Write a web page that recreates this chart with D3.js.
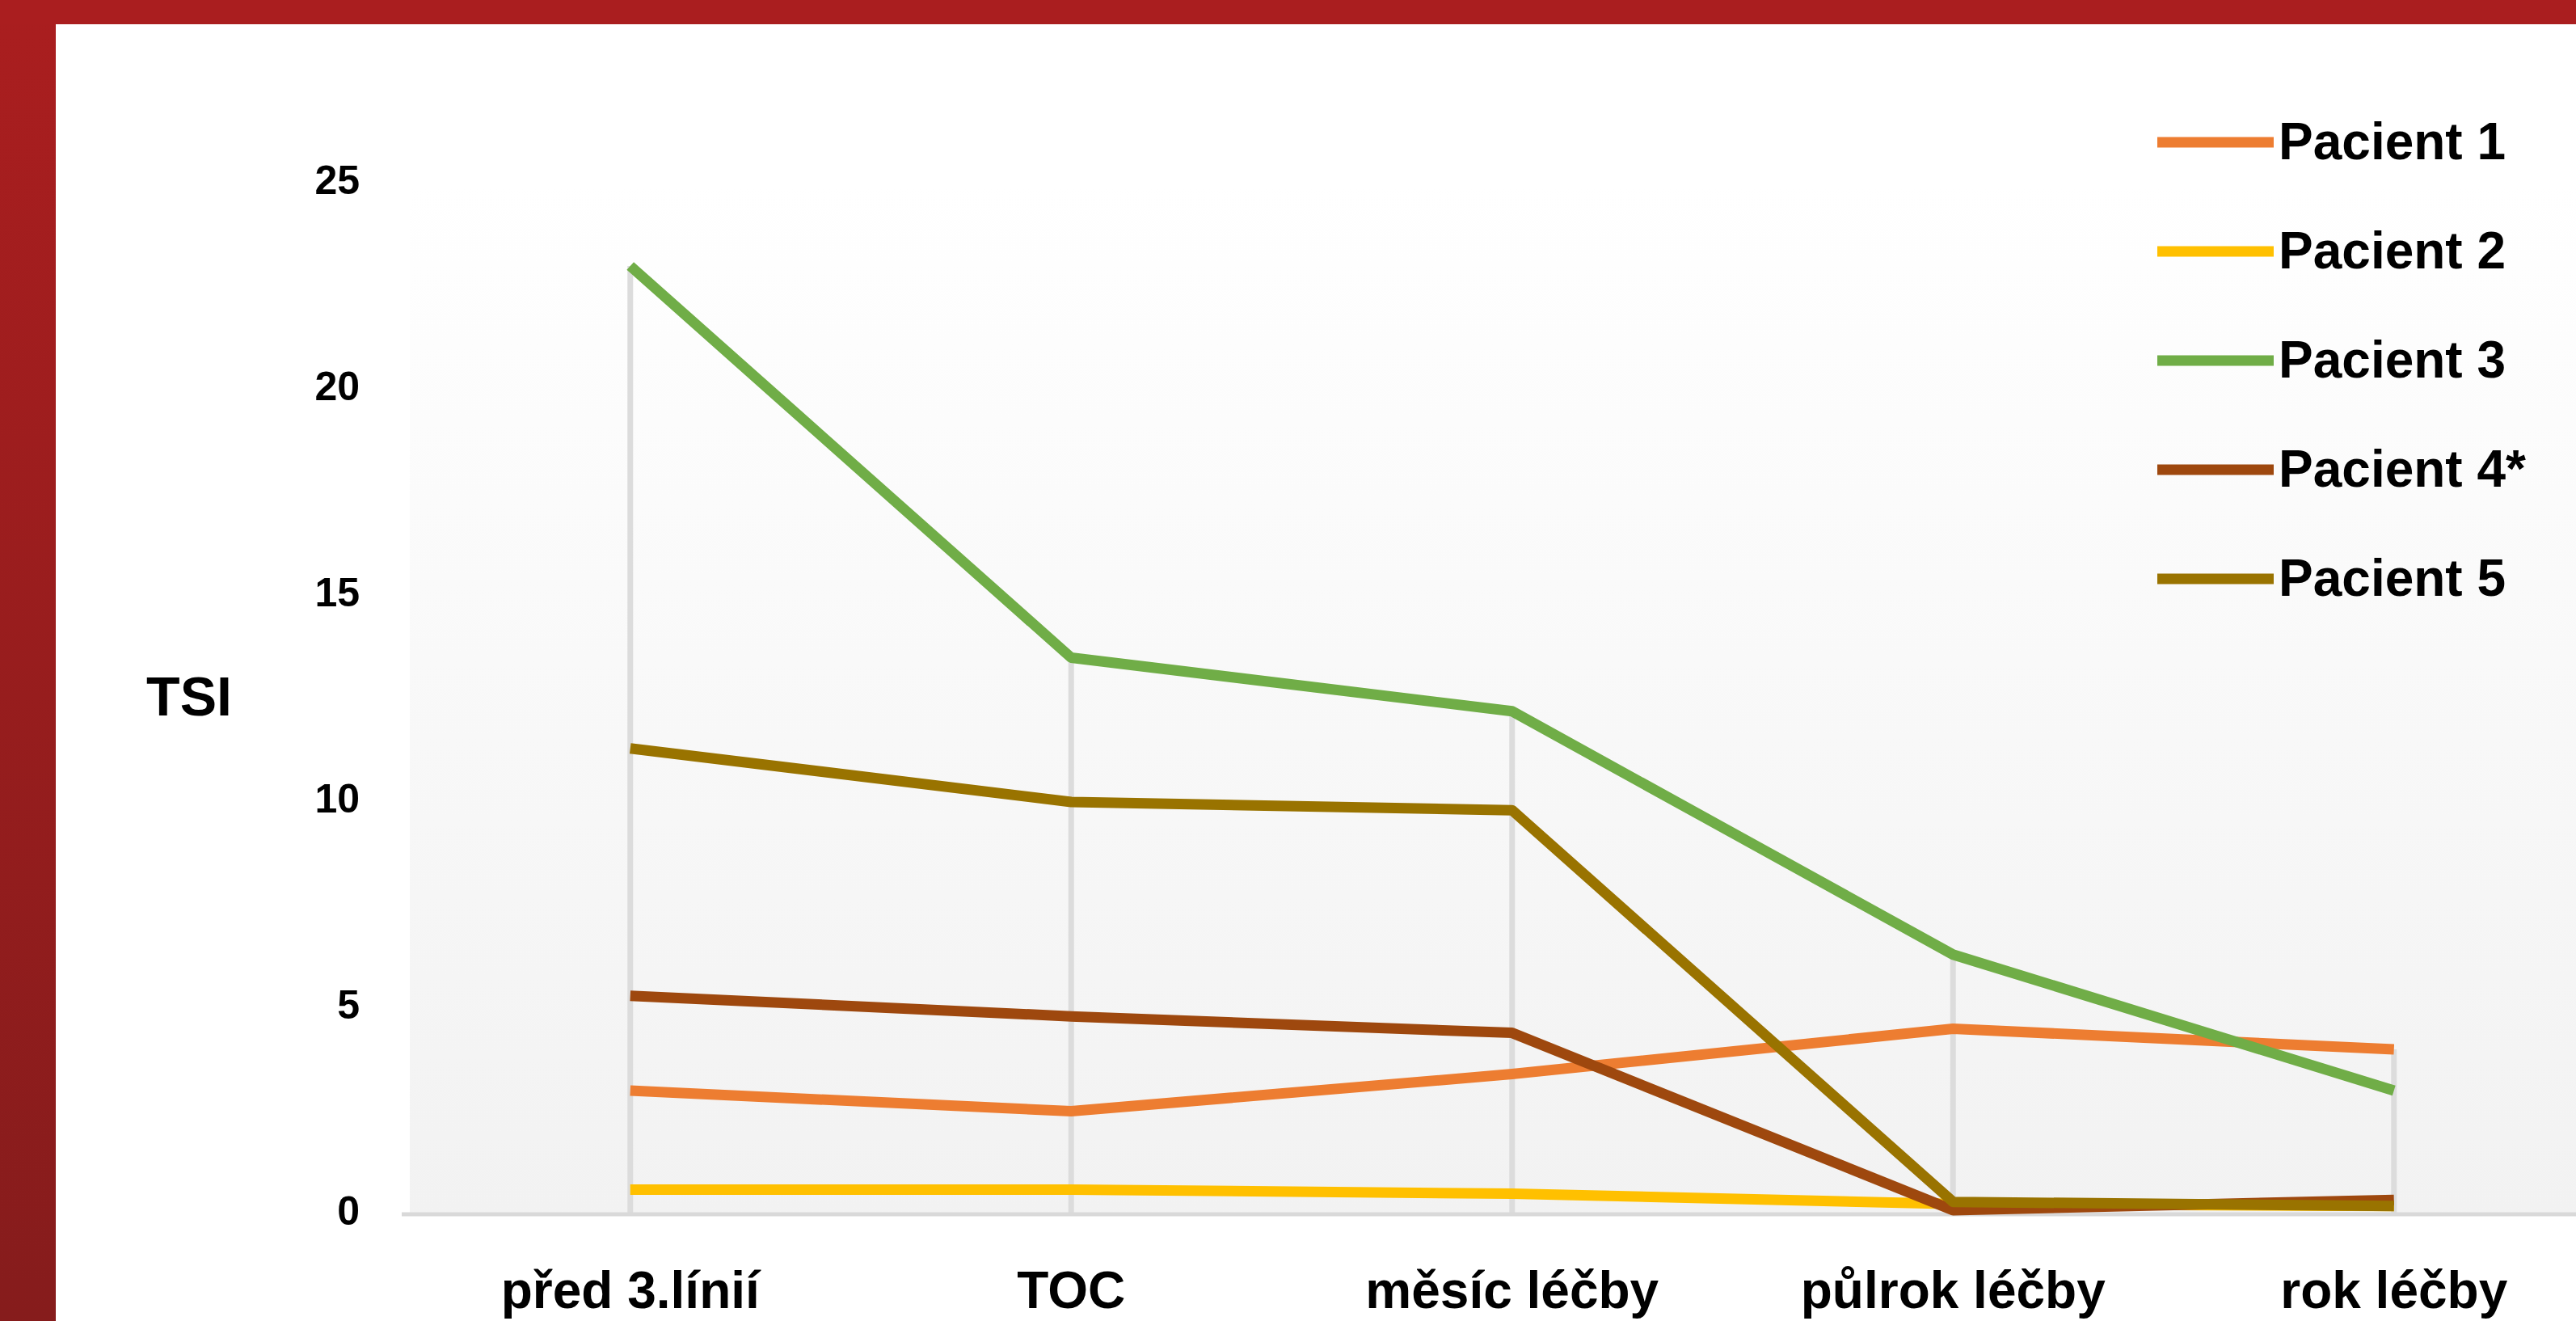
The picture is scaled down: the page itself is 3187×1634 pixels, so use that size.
<!DOCTYPE html>
<html>
<head>
<meta charset="utf-8">
<script src="https://cdn.jsdelivr.net/npm/d3@7"></script>
<style>
  body { margin: 0; background: #fff; }
  svg { display: block; }
</style>
</head>
<body>
<div id="chart"></div>
<script>
//categories on the x axis
var categories = ["před 3.línií", "TOC", "měsíc léčby", "půlrok léčby", "rok léčby"];
//tick labels on the y axis
var yTicks = [0, 5, 10, 15, 20, 25];
//series names, in drawing order
var seriesNames = ["Pacient 1", "Pacient 2", "Pacient 3", "Pacient 4*", "Pacient 5"];
//TSI values per patient
var pacient1 = [3.0, 2.5, 3.4, 4.5, 4.0];
var pacient2 = [0.6, 0.6, 0.5, 0.25, 0.2];
var pacient3 = [23.0, 13.5, 12.2, 6.3, 3.0];
var pacient4 = [5.3, 4.8, 4.4, 0.1, 0.35];
var pacient5 = [11.3, 10.0, 9.8, 0.3, 0.2];
var seriesColors = ["#ed7d31", "#ffc000", "#70ad47", "#9e480e", "#997300"];

//constructor
function LineChart(_series) {
  var vis = this;
  vis.series = _series;
  vis.init();
}

//function init
LineChart.prototype.init = function() {
  var vis = this;
  vis.width = 3187;
  vis.height = 1634;
  vis.plot = { left: 507, top: 227, bottom: 1502, step: 545.5 };

  vis.svg = d3.select("#chart").append("svg")
    .attr("width", vis.width)
    .attr("height", vis.height);

  //scales
  vis.x = d3.scaleBand()
    .domain(categories)
    .range([vis.plot.left, vis.plot.left + categories.length * vis.plot.step])
    .padding(0);
  vis.y = d3.scaleLinear()
    .domain([0, 25])
    .range([vis.plot.bottom, vis.plot.top]);

  vis.update();
};

//function update
LineChart.prototype.update = function() {
  var vis = this;
  var cx = function(c) { return vis.x(c) + vis.x.bandwidth() / 2; };
  var font = "'Liberation Sans', Arial, sans-serif";

  //gradient for the plot area
  var defs = vis.svg.append("defs");
  var grad = defs.append("linearGradient")
    .attr("id", "plotFill")
    .attr("x1", 0).attr("y1", 0).attr("x2", 0).attr("y2", 1);
  grad.append("stop").attr("offset", "0%").attr("stop-color", "#ffffff");
  grad.append("stop").attr("offset", "100%").attr("stop-color", "#f2f2f2");

  //gradient for the red frame on the left
  var frameGrad = defs.append("linearGradient")
    .attr("id", "frameFill")
    .attr("x1", 0).attr("y1", 0).attr("x2", 0).attr("y2", 1);
  frameGrad.append("stop").attr("offset", "0%").attr("stop-color", "#aa1e1f");
  frameGrad.append("stop").attr("offset", "100%").attr("stop-color", "#861c1c");

  //plot background
  vis.svg.append("rect")
    .attr("x", vis.plot.left)
    .attr("y", vis.plot.top)
    .attr("width", vis.width - vis.plot.left)
    .attr("height", vis.plot.bottom - vis.plot.top)
    .style("fill", "url(#plotFill)");

  //red frame at the top and left
  vis.svg.append("rect")
    .attr("x", 0).attr("y", 0)
    .attr("width", 69).attr("height", vis.height)
    .style("fill", "url(#frameFill)");
  vis.svg.append("rect")
    .attr("x", 0).attr("y", 0)
    .attr("width", vis.width).attr("height", 30)
    .style("fill", "#aa1e1f");

  //drop lines from the highest value down to the axis
  vis.svg.selectAll(".drop")
    .data(categories)
    .enter().append("line")
    .attr("class", "drop")
    .attr("x1", cx).attr("x2", cx)
    .attr("y1", function(c, i) {
      return vis.y(d3.max(vis.series, function(s) { return s.values[i]; }));
    })
    .attr("y2", vis.y(0))
    .style("stroke", "#dcdcdc")
    .style("stroke-width", 7);

  //category axis line
  vis.svg.append("line")
    .attr("x1", vis.plot.left - 10).attr("x2", vis.width)
    .attr("y1", vis.y(0)).attr("y2", vis.y(0))
    .style("stroke", "#d9d9d9")
    .style("stroke-width", 5);

  //series lines
  var line = d3.line()
    .x(function(d, i) { return cx(categories[i]); })
    .y(function(d) { return vis.y(d); });
  vis.svg.selectAll(".series")
    .data(vis.series)
    .enter().append("path")
    .attr("class", "series")
    .attr("d", function(s) { return line(s.values); })
    .style("fill", "none")
    .style("stroke", function(s) { return s.color; })
    .style("stroke-width", 13)
    .style("stroke-linejoin", "round");

  //y axis labels
  var yAxis = d3.axisLeft(vis.y)
    .tickValues(yTicks)
    .tickSize(0)
    .tickPadding(0);
  var yg = vis.svg.append("g")
    .attr("transform", "translate(445,-4)")
    .call(yAxis);
  yg.select(".domain").remove();
  yg.selectAll("text")
    .style("font-family", font)
    .style("font-weight", "bold")
    .style("font-size", "50px")
    .style("fill", "#000");

  //x axis labels
  var xAxis = d3.axisBottom(vis.x)
    .tickSize(0)
    .tickPadding(71);
  var xg = vis.svg.append("g")
    .attr("transform", "translate(0," + vis.y(0) + ")")
    .call(xAxis);
  xg.select(".domain").remove();
  xg.selectAll("text")
    .style("font-family", font)
    .style("font-weight", "bold")
    .style("font-size", "64px")
    .style("fill", "#000");

  //y axis title
  vis.svg.append("text")
    .text("TSI")
    .attr("x", 234)
    .attr("y", 885)
    .style("font-family", font)
    .style("font-weight", "bold")
    .style("font-size", "68px")
    .style("text-anchor", "middle")
    .style("fill", "#000");

  //legend
  var legend = vis.svg.selectAll(".legend")
    .data(vis.series)
    .enter().append("g")
    .attr("class", "legend")
    .attr("transform", function(s, i) { return "translate(2669," + (176 + i * 135) + ")"; });
  legend.append("line")
    .attr("x1", 0).attr("x2", 144)
    .attr("y1", 0).attr("y2", 0)
    .style("stroke", function(s) { return s.color; })
    .style("stroke-width", 13);
  legend.append("text")
    .text(function(s) { return s.name; })
    .attr("x", 150)
    .attr("y", 21)
    .style("font-family", font)
    .style("font-weight", "bold")
    .style("font-size", "64px")
    .style("fill", "#000");
};

var allSeries = [pacient1, pacient2, pacient3, pacient4, pacient5].map(function(v, i) {
  return { name: seriesNames[i], values: v, color: seriesColors[i] };
});
var chart = new LineChart(allSeries);
</script>
</body>
</html>
